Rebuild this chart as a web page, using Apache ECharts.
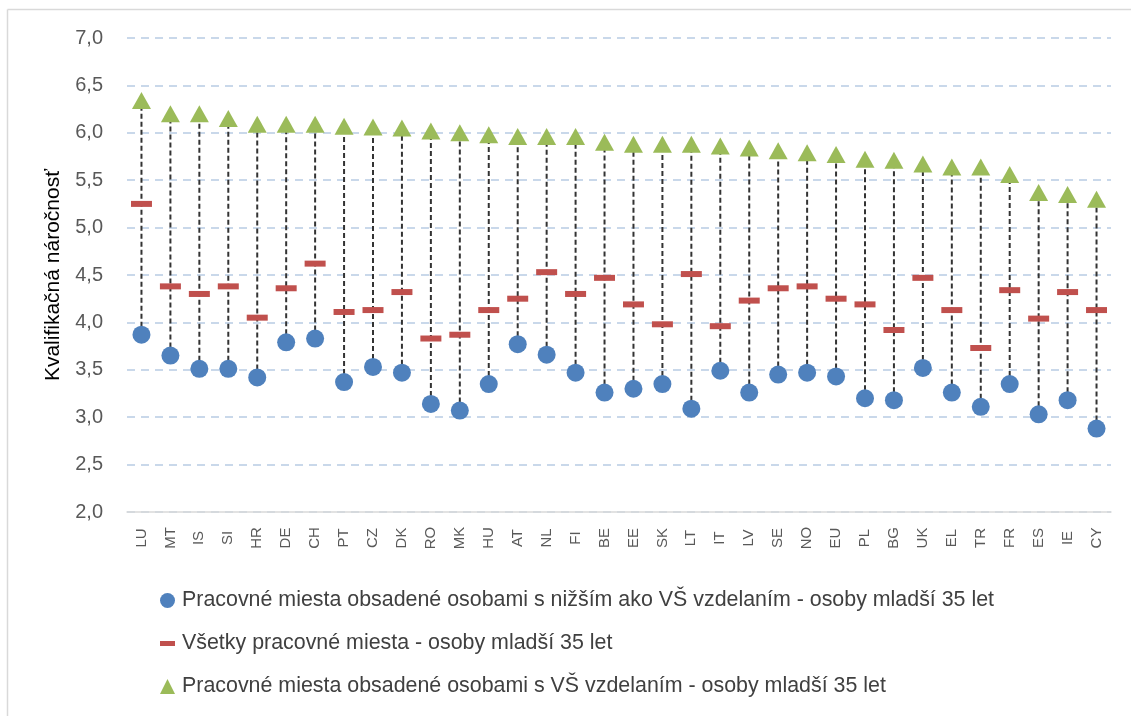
<!DOCTYPE html>
<html>
<head>
<meta charset="utf-8">
<script src="https://cdn.jsdelivr.net/npm/echarts@6/dist/echarts.min.js"></script>
<style>
html,body{margin:0;padding:0;background:#fff;}
#chart{width:1131px;height:716px;}
</style>
</head>
<body>
<div id="chart"></div>
<script>
const categories = ['LU','MT','IS','SI','HR','DE','CH','PT','CZ','DK','RO','MK','HU','AT','NL','FI','BE','EE','SK','LT','IT','LV','SE','NO','EU','PL','BG','UK','EL','TR','FR','ES','IE','CY'];
const lowerEdu = [3.87,3.65,3.51,3.51,3.42,3.79,3.83,3.37,3.53,3.47,3.14,3.07,3.35,3.77,3.66,3.47,3.26,3.30,3.35,3.09,3.49,3.26,3.45,3.47,3.43,3.20,3.18,3.52,3.26,3.11,3.35,3.03,3.18,2.88];
const allJobs = [5.25,4.38,4.30,4.38,4.05,4.36,4.62,4.11,4.13,4.32,3.83,3.87,4.13,4.25,4.53,4.30,4.47,4.19,3.98,4.51,3.96,4.23,4.36,4.38,4.25,4.19,3.92,4.47,4.13,3.73,4.34,4.04,4.32,4.13];
const higherEdu = [6.34,6.20,6.20,6.15,6.09,6.09,6.09,6.07,6.06,6.05,6.02,6.00,5.98,5.96,5.96,5.96,5.90,5.88,5.88,5.88,5.86,5.84,5.81,5.79,5.77,5.72,5.71,5.67,5.64,5.64,5.56,5.37,5.35,5.30];
const seriesNames = [
  'Pracovné miesta obsadené osobami s nižším ako VŠ vzdelaním - osoby mladší 35 let',
  'Všetky pracovné miesta - osoby mladší 35 let',
  'Pracovné miesta obsadené osobami s VŠ vzdelaním - osoby mladší 35 let'
];
const yAxisName = 'Kvalifikačná náročnosť';

const rangeData = categories.map((c, i) => [i, lowerEdu[i], higherEdu[i]]);

const chart = echarts.init(document.getElementById('chart'));
const FONT = "'Liberation Sans', Arial, sans-serif";
chart.setOption({
  animation: false,
  backgroundColor: '#fff',
  textStyle: { fontFamily: FONT },
  graphic: [
    { type: 'line', shape: { x1: 7.5, y1: 9.5, x2: 7.5, y2: 716 }, style: { stroke: '#D9D9D9', lineWidth: 1.5 }, silent: true },
    { type: 'line', shape: { x1: 7.5, y1: 9.5, x2: 1131, y2: 9.5 }, style: { stroke: '#D9D9D9', lineWidth: 1.5 }, silent: true }
  ],
  grid: { left: 127, right: 20, top: 38, bottom: 204, containLabel: false },
  legend: {
    orient: 'vertical',
    left: 155,
    top: 585,
    itemGap: 22,
    itemWidth: 15,
    itemHeight: 15,
    textStyle: { fontSize: 21.4, color: '#404040', fontFamily: FONT, padding: [0, 0, 0, 2] },
    data: [
      { name: seriesNames[0], icon: 'circle' },
      { name: seriesNames[1], icon: 'path://M0,0L0.001,0Z M0,5H15V10H0Z M0,15L0.001,15Z' },
      { name: seriesNames[2], icon: 'triangle' }
    ]
  },
  xAxis: {
    type: 'category',
    data: categories,
    boundaryGap: true,
    axisLine: { lineStyle: { color: '#D9D9D9', width: 1.5 } },
    axisTick: { show: false },
    axisLabel: { rotate: 90, align: 'center', verticalAlign: 'middle', fontSize: 15, color: '#595959', margin: 26, interval: 0, fontFamily: FONT },
    splitLine: { show: false }
  },
  yAxis: {
    type: 'value',
    min: 2,
    max: 7,
    interval: 0.5,
    name: yAxisName,
    nameLocation: 'middle',
    nameGap: 63,
    nameTextStyle: { fontSize: 21, color: '#000', fontFamily: FONT },
    axisLine: { show: false },
    axisTick: { show: false },
    axisLabel: {
      fontSize: 20, color: '#595959', margin: 24, fontFamily: FONT,
      formatter: v => v.toFixed(1).replace('.', ',')
    },
    splitLine: { lineStyle: { color: '#B8CCE4', width: 1.5, type: [8, 6] } }
  },
  series: [
    {
      type: 'custom',
      name: 'range',
      data: rangeData,
      z: 1,
      silent: true,
      encode: { x: 0, y: [1, 2] },
      renderItem: function (params, api) {
        const x = api.value(0);
        const p1 = api.coord([x, api.value(1)]);
        const p2 = api.coord([x, api.value(2)]);
        return {
          type: 'line',
          shape: { x1: p1[0], y1: p1[1], x2: p2[0], y2: p2[1] },
          style: { stroke: '#333333', lineWidth: 2, lineDash: [5, 3] }
        };
      }
    },
    {
      type: 'scatter',
      name: seriesNames[0],
      data: lowerEdu,
      symbol: 'circle',
      symbolSize: 18,
      itemStyle: { color: '#4F81BD', opacity: 1 },
      z: 3
    },
    {
      type: 'scatter',
      name: seriesNames[1],
      data: allJobs,
      symbol: 'rect',
      symbolSize: [21, 6],
      itemStyle: { color: '#C0504D', opacity: 1 },
      z: 3
    },
    {
      type: 'scatter',
      name: seriesNames[2],
      data: higherEdu,
      symbol: 'triangle',
      symbolSize: [19, 17],
      itemStyle: { color: '#9BBB59', opacity: 1 },
      z: 3
    }
  ]
});
</script>
</body>
</html>
